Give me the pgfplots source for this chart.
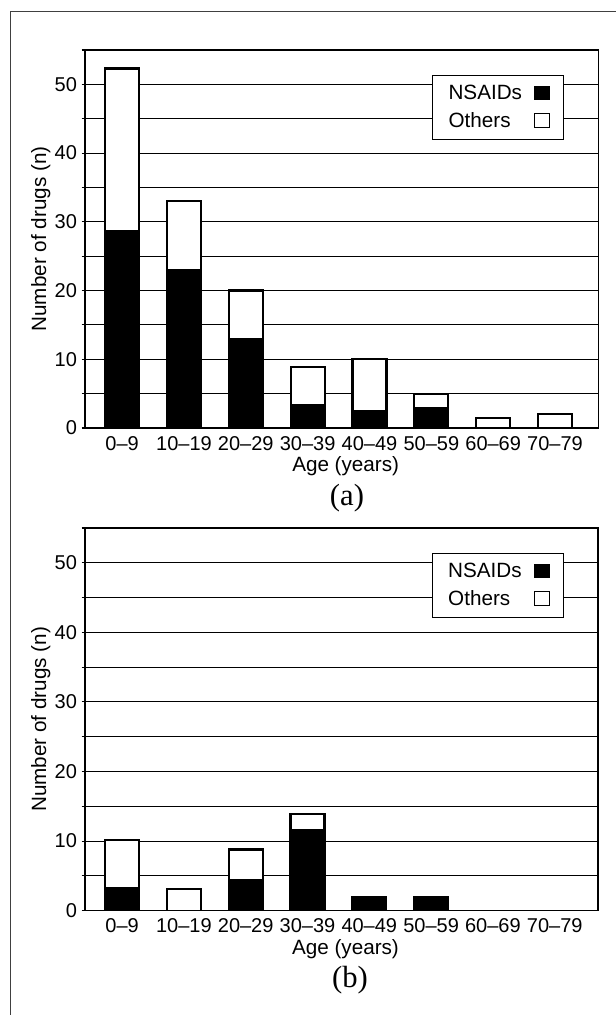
\documentclass[border=0pt]{standalone}
\usepackage{pgfplots}
\usepackage{pgfplotstable}
\pgfplotsset{compat=1.18}
\usepackage{fontspec}
\setmainfont{Liberation Sans}
\newfontfamily\seriffont{Liberation Serif}

\pgfplotstableread{
x nsaid other
0 28.7 23.6
1 23.0 10.0
2 13.0 7.0
3 3.3 5.6
4 2.4 7.6
5 2.9 2.0
6 0 1.4
7 0 2.0
}\dataA

\pgfplotstableread{
x nsaid other
0 3.2 6.9
1 0 3.1
2 4.4 4.4
3 11.6 2.25
4 2.0 0
5 2.0 0
}\dataB

\pgfplotsset{
  sq legend/.style={legend image code/.code={\draw[##1, line width=0.8pt] (0pt,-4.5pt) rectangle (11.5pt,5.5pt);}},
  panel/.style={
    scale only axis,
    anchor=north west,
    xmin=-0.6, xmax=7.7, ymin=0, ymax=55,
    ybar stacked, bar width=25.5pt,
    xtick={0,...,7},
    xticklabels={0--9,10--19,20--29,30--39,40--49,50--59,60--69,70--79},
    ytick={0,10,...,50}, minor ytick={5,15,...,55},
    ymajorgrids, yminorgrids,
    major grid style={black, line width=0.8pt},
    minor grid style={black, line width=0.8pt},
    axis line style={black, line width=0.9pt},
    xtick style={draw=none},
    ytick pos=left, tick align=outside,
    major tick length=2.5pt, minor tick length=2.5pt,
    ytick style={black, line width=0.8pt},
    minor tick style={black, line width=0.8pt},
    tick label style={font=\fontsize{15}{18}\selectfont},
    /pgf/number format/assume math mode=true,
    xlabel={Age (years)},
    ylabel={Number of drugs (n)},
    xlabel style={font=\fontsize{15.5}{18}\selectfont, at={(axis description cs:0.5,0)}, anchor=center, yshift=-28.5pt, xshift=3pt},
    ylabel style={font=\fontsize{15.5}{18}\selectfont, at={(axis description cs:-0.086,0.5)}, anchor=center},
    legend plot pos=right,
    legend cell align=left,
    legend style={at={(1,1)}, anchor=north east, xshift=-25.5pt, yshift=-18.75pt,
      draw=black, line width=0.8pt, font=\fontsize{15.5}{18}\selectfont,
      inner xsep=10pt, inner ysep=5.5pt, row sep=4pt, column sep=7pt},
  },
  nsaid/.style={fill=black, draw=black, line width=1.6pt, sq legend},
  other/.style={fill=white, draw=black, line width=1.6pt, sq legend},
}

\begin{document}
\begin{tikzpicture}
\useasboundingbox (0,0) rectangle (462pt,-761.25pt);
\draw[black!75, line width=0.9pt] (8pt,-770pt) -- (8pt,-8.8pt) -- (470pt,-8.8pt);

\begin{axis}[panel, at={(63.75pt,-37.5pt)}, width=385pt, height=283.5pt]
\addplot[nsaid] table[x=x, y=nsaid] {\dataA};
\addlegendentry{NSAIDs}
\addplot[other] table[x=x, y=other] {\dataA};
\addlegendentry{Others}
\end{axis}

\begin{axis}[panel, at={(63.75pt,-396pt)}, width=384.75pt, height=287pt]
\addplot[nsaid] table[x=x, y=nsaid] {\dataB};
\addlegendentry{NSAIDs}
\addplot[other] table[x=x, y=other] {\dataB};
\addlegendentry{Others}
\end{axis}

\node[font=\seriffont\fontsize{23}{26}\selectfont] at (260.25pt,-373.5pt) {(a)};
\node[font=\seriffont\fontsize{23}{26}\selectfont] at (262.5pt,-735pt) {(b)};
\end{tikzpicture}
\end{document}
